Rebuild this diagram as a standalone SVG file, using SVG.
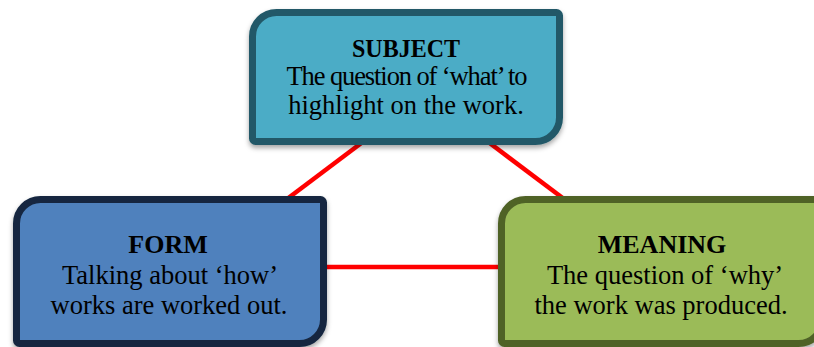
<svg xmlns="http://www.w3.org/2000/svg" width="814" height="347" viewBox="0 0 814 347">
<defs>
<filter id="sh" x="-10%" y="-10%" width="120%" height="130%">
<feDropShadow dx="0" dy="3" stdDeviation="2.5" flood-color="#000" flood-opacity="0.35"/>
</filter>
<style>
.box{stroke-width:7;filter:url(#sh)}
.t{font-family:"Liberation Serif","Times New Roman",serif;font-size:26.5px;fill:#000;text-anchor:middle}
.b{font-weight:bold;font-size:26px}
.ln{stroke:#FF0000;stroke-width:4.5;fill:none}
</style>
</defs>
<rect width="814" height="347" fill="#fff"/>
<g id="connectors">
<line class="ln" x1="368" y1="138" x2="283" y2="202"/>
<line class="ln" x1="483" y1="138" x2="568" y2="202"/>
<line class="ln" x1="320" y1="267" x2="504" y2="267"/>
</g>
<g id="subject">
<path class="box" fill="#4BACC6" stroke="#215968" d="M276.5,12.5 H556.5 A3,3 0 0 1 559.5,15.5 V117.5 A24,24 0 0 1 535.5,141.5 H255.5 A3,3 0 0 1 252.5,138.5 V36.5 A24,24 0 0 1 276.5,12.5 Z"/>
<text class="t b" x="406" y="57" textLength="108" lengthAdjust="spacingAndGlyphs">SUBJECT</text>
<text class="t" x="407" y="85" textLength="241" lengthAdjust="spacing">The question of ‘what’ to</text>
<text class="t" x="406" y="114">highlight on the work.</text>
</g>
<g id="form">
<path class="box" fill="#4F81BD" stroke="#14263F" d="M40.5,199.5 H320.5 A3,3 0 0 1 323.5,202.5 V319.5 A24,24 0 0 1 299.5,343.5 H19.5 A3,3 0 0 1 16.5,340.5 V223.5 A24,24 0 0 1 40.5,199.5 Z"/>
<text class="t b" x="168" y="253">FORM</text>
<text class="t" x="170" y="283.5">Talking about ‘how’</text>
<text class="t" x="169" y="314">works are worked out.</text>
</g>
<g id="meaning">
<path class="box" fill="#9BBB59" stroke="#4F6228" d="M525.5,199.5 H819.5 A3,3 0 0 1 822.5,202.5 V319.5 A24,24 0 0 1 798.5,343.5 H504.5 A3,3 0 0 1 501.5,340.5 V223.5 A24,24 0 0 1 525.5,199.5 Z"/>
<text class="t b" x="662" y="253">MEANING</text>
<text class="t" x="665" y="283.5">The question of ‘why’</text>
<text class="t" x="661" y="314">the work was produced.</text>
</g>
</svg>
